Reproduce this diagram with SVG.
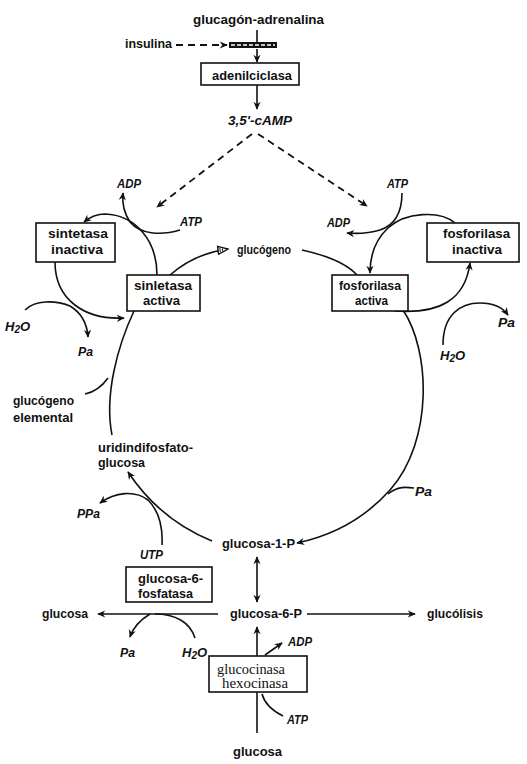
<svg xmlns="http://www.w3.org/2000/svg" width="527" height="764" viewBox="0 0 527 764">
<defs>
<style>
.t{font-family:"Liberation Sans","DejaVu Sans",sans-serif;font-weight:bold;font-size:13px;fill:#111}
.i{font-family:"Liberation Sans","DejaVu Sans",sans-serif;font-weight:bold;font-style:italic;font-size:13px;fill:#111}
.s{font-family:"Liberation Serif","DejaVu Serif",serif;font-size:14px;fill:#111}
.b{fill:#fff;stroke:#111;stroke-width:1.6}
.c{fill:none;stroke:#111;stroke-width:1.6}
.a{marker-end:url(#ah)}
.d{fill:none;stroke:#111;stroke-width:1.8;stroke-dasharray:7 5}
</style>
<marker id="ah" viewBox="0 0 10 10" refX="9" refY="5" markerWidth="11" markerHeight="8" markerUnits="userSpaceOnUse" orient="auto-start-reverse">
<path d="M0,0.5 L10,5 L0,9.5 L3,5 z" fill="#111"/>
</marker>
<marker id="oa" viewBox="0 0 12 10" refX="11" refY="5" markerWidth="13" markerHeight="10" markerUnits="userSpaceOnUse" orient="auto">
<path d="M1,1 L11,5 L1,9 z" fill="#fff" stroke="#111" stroke-width="1.4"/>
<path d="M3,3 L3,7 M5.5,3.8 L5.5,6.2" stroke="#111" stroke-width="1"/>
</marker>
</defs>

<g id="connectors">
<path class="c" d="M257,30 L257,43"/>
<path class="d a" d="M176,45 L227,45"/>
<path class="c a" d="M257,49 L257,62"/>
<path class="c a" d="M257,85 L257,109"/>
<path class="d a" d="M252,134 L157,207"/>
<path class="d a" d="M258,134 L367,206"/>
<path class="c a" d="M180,230 C160,236 140,234 130,222 C124,213 122,203 123,193"/>
<path class="c a" d="M157,275 C157,240 135,215 105,214 C97,214 90,217 84,222"/>
<path class="c" d="M170,275 C185,262 205,252 228,249" marker-end="url(#oa)"/>
<path class="c a" d="M55,262 C55,300 85,320 124,318"/>
<path class="c a" d="M25,310 C35,300 55,300 70,306 C80,312 87,322 88,337"/>
<path class="c" d="M134,311 C118,345 104,395 112,435"/>
<path class="c" d="M85,394 C95,392 103,385 108,378"/>
<path class="c a" d="M402,193 C402,212 395,225 380,230 C370,233 358,234 347,233"/>
<path class="c a" d="M455,223 C440,210 405,212 388,228 C375,240 370,255 370,273"/>
<path class="c" d="M302,250 C325,255 345,262 357,275"/>
<path class="c a" d="M395,311 C440,314 465,300 470,263"/>
<path class="c a" d="M443,345 C443,315 460,303 480,303 C495,303 503,308 508,315"/>
<path class="c a" d="M403,310 C430,350 434,440 390,490 C365,518 335,535 297,543"/>
<path class="c" d="M388,494 C398,486 406,487 414,488"/>
<path class="c a" d="M212,541 C180,528 150,505 128,472"/>
<path class="c a" d="M162,545 C163,525 158,510 148,500 C135,490 115,492 100,503"/>
<path class="c a" d="M257,557 L257,602" marker-start="url(#ah)"/>
<path class="c a" d="M218,614 L98,614"/>
<path class="c a" d="M307,614 L415,614"/>
<path class="c a" d="M150,614 C140,620 133,628 130,637"/>
<path class="c" d="M195,638 C190,622 175,614 155,614"/>
<path class="c a" d="M257,656 L257,627"/>
<path class="c a" d="M265,655 L282,643"/>
<path class="c" d="M257,733 L257,692"/>
<path class="c" d="M262,694 C265,705 275,712 283,716"/>
</g>

<g id="glucagon"><text class="t" x="193" y="24" textLength="131" lengthAdjust="spacingAndGlyphs">glucagón-adrenalina</text></g>
<g id="insulina"><text class="t" x="125" y="48" textLength="47" lengthAdjust="spacingAndGlyphs">insulina</text></g>
<g id="receptor"><rect x="229" y="42" width="48" height="6" fill="#111"/><path d="M231,45 L275,45" stroke="#fff" stroke-width="1.4" stroke-dasharray="4 2"/></g>
<g id="adenilciclasa"><rect class="b" x="201" y="63" width="98" height="22"/><text class="t" x="212" y="80" textLength="80" lengthAdjust="spacingAndGlyphs">adenilciclasa</text></g>
<g id="camp"><text class="i" x="228" y="125" textLength="64" lengthAdjust="spacingAndGlyphs">3,5'-cAMP</text></g>

<g id="adp1"><text class="i" x="117" y="188" textLength="24" lengthAdjust="spacingAndGlyphs">ADP</text></g>
<g id="atp1"><text class="i" x="180" y="226" textLength="22" lengthAdjust="spacingAndGlyphs">ATP</text></g>
<g id="atp2"><text class="i" x="387" y="188" textLength="21" lengthAdjust="spacingAndGlyphs">ATP</text></g>
<g id="adp2"><text class="i" x="327" y="227" textLength="23" lengthAdjust="spacingAndGlyphs">ADP</text></g>
<g id="glucogeno"><text class="t" x="237" y="254" textLength="54" lengthAdjust="spacingAndGlyphs">glucógeno</text></g>

<g id="sintetasa-inactiva"><rect class="b" x="36" y="223" width="79" height="39"/><text class="t" x="48" y="238" textLength="60" lengthAdjust="spacingAndGlyphs">sintetasa</text><text class="t" x="51" y="254" textLength="52" lengthAdjust="spacingAndGlyphs">inactiva</text></g>
<g id="fosforilasa-inactiva"><rect class="b" x="427" y="223" width="92" height="39"/><text class="t" x="443" y="238" textLength="67" lengthAdjust="spacingAndGlyphs">fosforilasa</text><text class="t" x="452" y="254" textLength="50" lengthAdjust="spacingAndGlyphs">inactiva</text></g>
<g id="sintetasa-activa"><rect class="b" x="127" y="275" width="73" height="36"/><text class="t" x="134" y="290" textLength="58" lengthAdjust="spacingAndGlyphs">sinletasa</text><text class="t" x="143" y="305" textLength="37" lengthAdjust="spacingAndGlyphs">activa</text></g>
<g id="fosforilasa-activa"><rect class="b" x="332" y="275" width="76" height="36"/><text class="t" x="339" y="290" textLength="62" lengthAdjust="spacingAndGlyphs">fosforilasa</text><text class="t" x="355" y="305" textLength="33" lengthAdjust="spacingAndGlyphs">activa</text></g>

<g id="h2o1"><text class="i" x="5" y="331">H<tspan font-size="10" dy="2">2</tspan><tspan dy="-2">O</tspan></text></g>
<g id="pa1"><text class="i" x="78" y="356" textLength="15" lengthAdjust="spacingAndGlyphs">Pa</text></g>
<g id="h2o2"><text class="i" x="440" y="360">H<tspan font-size="10" dy="2">2</tspan><tspan dy="-2">O</tspan></text></g>
<g id="pa2"><text class="i" x="498" y="327" textLength="17" lengthAdjust="spacingAndGlyphs">Pa</text></g>
<g id="glucogeno-elemental"><text class="t" x="13" y="405" textLength="61" lengthAdjust="spacingAndGlyphs">glucógeno</text><text class="t" x="13" y="422" textLength="60" lengthAdjust="spacingAndGlyphs">elemental</text></g>
<g id="udpg"><text class="t" x="98" y="452" textLength="95" lengthAdjust="spacingAndGlyphs">uridindifosfato-</text><text class="t" x="98" y="467" textLength="47" lengthAdjust="spacingAndGlyphs">glucosa</text></g>
<g id="pa3"><text class="i" x="415" y="496" textLength="17" lengthAdjust="spacingAndGlyphs">Pa</text></g>
<g id="ppa"><text class="i" x="77" y="518" textLength="23" lengthAdjust="spacingAndGlyphs">PPa</text></g>
<g id="utp"><text class="i" x="140" y="559" textLength="23" lengthAdjust="spacingAndGlyphs">UTP</text></g>
<g id="g1p"><text class="t" x="222" y="548" textLength="73" lengthAdjust="spacingAndGlyphs">glucosa-1-P</text></g>
<g id="g6pasa"><rect class="b" x="126" y="567" width="86" height="35"/><text class="t" x="138" y="583" textLength="65" lengthAdjust="spacingAndGlyphs">glucosa-6-</text><text class="t" x="138" y="598" textLength="55" lengthAdjust="spacingAndGlyphs">fosfatasa</text></g>
<g id="glucosa1"><text class="t" x="42" y="618" textLength="46" lengthAdjust="spacingAndGlyphs">glucosa</text></g>
<g id="g6p"><text class="t" x="230" y="618" textLength="72" lengthAdjust="spacingAndGlyphs">glucosa-6-P</text></g>
<g id="glucolisis"><text class="t" x="427" y="618" textLength="56" lengthAdjust="spacingAndGlyphs">glucólisis</text></g>
<g id="pa4"><text class="i" x="120" y="657" textLength="15" lengthAdjust="spacingAndGlyphs">Pa</text></g>
<g id="h2o3"><text class="i" x="182" y="657">H<tspan font-size="10" dy="2">2</tspan><tspan dy="-2">O</tspan></text></g>
<g id="adp3"><text class="i" x="288" y="646" textLength="24" lengthAdjust="spacingAndGlyphs">ADP</text></g>
<g id="glucocinasa"><rect class="b" x="209" y="656" width="98" height="36"/><text class="s" x="217" y="674" textLength="68" lengthAdjust="spacingAndGlyphs">glucocinasa</text><text class="s" x="222" y="688" textLength="66" lengthAdjust="spacingAndGlyphs">hexocinasa</text></g>
<g id="atp3"><text class="i" x="287" y="724" textLength="21" lengthAdjust="spacingAndGlyphs">ATP</text></g>
<g id="glucosa2"><text class="t" x="233" y="756" textLength="49" lengthAdjust="spacingAndGlyphs">glucosa</text></g>
</svg>
